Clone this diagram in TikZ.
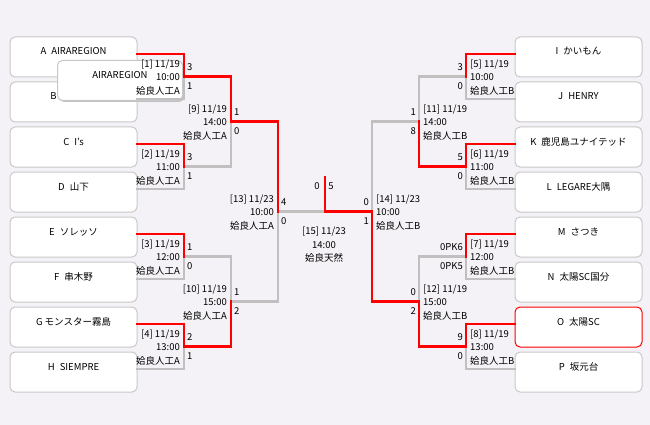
\documentclass[tikz,border=0pt]{standalone}
\usepackage{fontspec}
\setmainfont{Noto Sans CJK JP}
\usepackage{tikz}
\usetikzlibrary{positioning,shadows}
\usepackage{xcolor}
\definecolor{bgcol}{RGB}{244,242,246}
\definecolor{boxline}{RGB}{200,200,200}
\definecolor{losecol}{RGB}{192,192,192}
\definecolor{wincol}{RGB}{255,0,0}
\newcommand{\tgap}{\hspace{5pt}}
\newcommand{\bfont}{\fontsize{9.5}{13.5}\selectfont}

\tikzset{
	team/.style={draw=boxline,line width=1pt,fill=white,rounded corners=5pt,
		minimum width=127pt,minimum height=40pt,inner xsep=2pt,inner ysep=3pt,
		text height=15pt,text depth=19pt,font=\bfont},
	teamwin/.style={team,draw=wincol},
	popup/.style={team,minimum width=125pt,minimum height=39pt,draw=boxline,
		drop shadow={shadow xshift=1.5pt,shadow yshift=-1.5pt,fill=losecol,opacity=1}},
	win/.style={draw=wincol,line width=2.4pt,line cap=rect},
	lose/.style={draw=losecol,line width=2.4pt,line cap=rect},
	infoL/.style={anchor=east,align=right,font=\bfont,inner sep=0pt},
	infoR/.style={anchor=west,align=left,font=\bfont,inner sep=0pt},
	infoC/.style={align=center,font=\bfont,inner sep=0pt},
	score/.style={font=\bfont,inner sep=0pt}
}

\begin{document}
\begin{tikzpicture}[x=1pt,y=-1pt]
			\fill[bgcol] (0,0) rectangle (650,425);
			\useasboundingbox (0,0) rectangle (650,425);
			\node[team] (tA) at (73.5,57) {A\tgap AIRAREGION};
			\node[team] (tB) at (73.5,102) {B\kern40pt};
			\node[team] (tC) at (73.5,147) {C\tgap I’s};
			\node[team] (tD) at (73.5,192) {D\tgap 山下};
			\node[team] (tE) at (73.5,237) {E\tgap ソレッソ};
			\node[team] (tF) at (73.5,282) {F\tgap 串木野};
			\node[team] (tG) at (73.5,327) {G モンスター霧島};
			\node[team] (tH) at (73.5,372) {H\tgap SIEMPRE};
			\node[team] (tI) at (578.5,57) {I\tgap かいもん};
			\node[team] (tJ) at (578.5,102) {J\tgap HENRY};
			\node[team] (tK) at (578.5,147) {K\tgap 鹿児島ユナイテッド};
			\node[team] (tL) at (578.5,192) {L\tgap LEGARE大隅};
			\node[team] (tM) at (578.5,237) {M\tgap さつき};
			\node[team] (tN) at (578.5,282) {N\tgap 太陽SC国分};
			\node[teamwin] (tO) at (578.5,327) {O\tgap 太陽SC};
			\node[team] (tP) at (578.5,372) {P\tgap 坂元台};
			\node[popup] (pop) at (120,80.5) {AIRAREGION};
			\coordinate (m1) at (184,76.5);
			\coordinate (m2) at (184,166.5);
			\coordinate (m3) at (184,256.5);
			\coordinate (m4) at (184,346.5);
			\coordinate (m5) at (466,76.5);
			\coordinate (m6) at (466,166.5);
			\coordinate (m7) at (466,256.5);
			\coordinate (m8) at (466,346.5);
			\coordinate (m9) at (231,121.5);
			\coordinate (m10) at (231,301.5);
			\coordinate (m11) at (419,121.5);
			\coordinate (m12) at (419,301.5);
			\coordinate (m13) at (278,211.5);
			\coordinate (m14) at (372,211.5);
			\coordinate (m15) at (325,211.5);
			\coordinate (champ) at (325,177);
			\foreach \t/\m in {tB/m1,tD/m2,tF/m3,tH/m4}
				\draw[lose] ([yshift=3pt]\t.east) -| (\m);
			\foreach \t/\m in {tJ/m5,tL/m6,tN/m7,tP/m8}
				\draw[lose] ([yshift=3pt]\t.west) -| (\m);
			\foreach \a/\m in {m2/m9,m3/m10,m5/m11,m7/m12,m10/m13,m11/m14}
				\draw[lose] (\a) -| (\m);
			\draw[lose] (m13) -- (m15);
			\foreach \t/\m in {tA/m1,tC/m2,tE/m3,tG/m4}
				\draw[win] ([yshift=3pt]\t.east) -| (\m);
			\foreach \t/\m in {tI/m5,tK/m6,tM/m7,tO/m8}
				\draw[win] ([yshift=3pt]\t.west) -| (\m);
			\foreach \a/\m in {m1/m9,m4/m10,m6/m11,m8/m12,m9/m13,m12/m14}
				\draw[win] (\a) -| (\m);
			\draw[win] (m14) -- (m15) -- (champ);
			\foreach \m/\h/\dd in {1/10:00/19,2/11:00/19,3/12:00/19,4/13:00/19,9/14:00/19,10/15:00/19,13/10:00/23}
				\node[infoL] (i\m) at ([xshift=-4pt,yshift=-1pt]m\m) {[\m] 11/\dd\\\h\\姶良人工A};
			\foreach \m/\h/\dd in {5/10:00/19,6/11:00/19,7/12:00/19,8/13:00/19,11/14:00/19,12/15:00/19,14/10:00/23}
				\node[infoR] (i\m) at ([xshift=4pt,yshift=-1pt]m\m) {[\m] 11/\dd\\\h\\姶良人工B};
			\foreach \m/\a/\b in {1/3/1,2/3/1,3/1/0,4/2/1,9/1/0,10/1/2,13/4/0}{
				\node[score,anchor=west] (sa\m) at ([xshift=3pt,yshift=9pt]m\m) {\a};
				\node[score,anchor=west] (sb\m) at ([xshift=3pt,yshift=-10pt]m\m) {\b};
			}
			\foreach \m/\a/\b in {5/3/0,6/5/0,7/0PK6/0PK5,8/9/0,11/1/8,12/0/2,14/0/1}{
				\node[score,anchor=east] (sa\m) at ([xshift=-3pt,yshift=9pt]m\m) {\a};
				\node[score,anchor=east] (sb\m) at ([xshift=-3pt,yshift=-10pt]m\m) {\b};
			}
			\node[score] (sa15) at (317,186) {0};
			\node[score] (sb15) at (331,186) {5};
			\node[infoC] (i15) at (324,245) {[15] 11/23\\14:00\\姶良天然};
		\end{tikzpicture}
\end{document}
